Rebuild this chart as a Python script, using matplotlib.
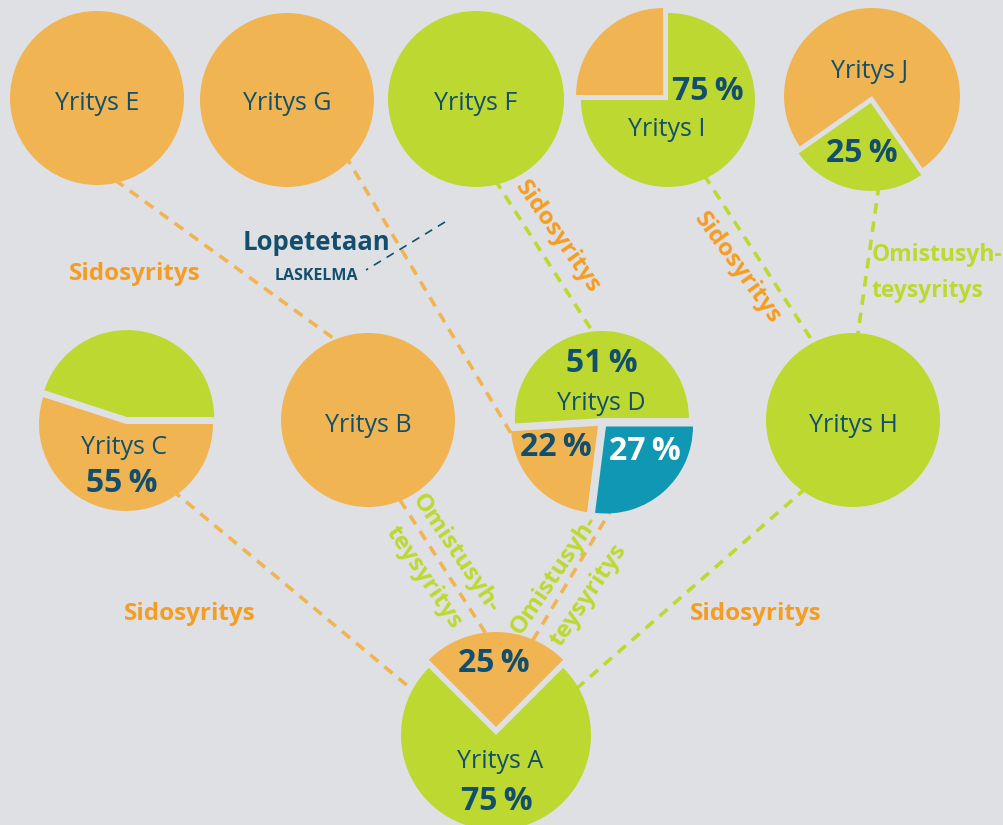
import matplotlib.pyplot as plt

# canvas in pixels, y measured from the top of the picture
W, H = 1004, 825
BG = "#dfe0e4"
ORANGE = "#f0b552"
GREEN = "#bdd831"
BLUE = "#1097b4"
DARK = "#134f6c"
LABEL_ORANGE = "#f59d22"
FONT = ["Open Sans", "DejaVu Sans"]

# ---- data ----
companies = ["Yritys A", "Yritys B", "Yritys C", "Yritys D", "Yritys E",
             "Yritys F", "Yritys G", "Yritys H", "Yritys I", "Yritys J"]
shares = [[25, 75], [100], [45, 55], [51, 22, 27], [100],
          [100], [100], [100], [75, 25], [25, 75]]
share_colors = [[ORANGE, GREEN], [ORANGE], [GREEN, ORANGE], [GREEN, ORANGE, BLUE], [ORANGE],
                [GREEN], [ORANGE], [GREEN], [GREEN, ORANGE], [GREEN, ORANGE]]
# which slices get a percentage written on them (company index, slice index)
shown_shares = [(0, 0), (0, 1), (2, 1), (3, 0), (3, 1), (3, 2), (8, 0), (9, 0)]

# links between companies: (from, to, relation)
links = [("Yritys E", "Yritys B", "sidos"), ("Yritys G", "Yritys D", "sidos"),
         ("Yritys F", "Yritys D", "omistus"), ("Yritys I", "Yritys H", "omistus"),
         ("Yritys J", "Yritys H", "omistus"), ("Yritys C", "Yritys A", "sidos"),
         ("Yritys B", "Yritys A", "sidos"), ("Yritys D", "Yritys A", "sidos"),
         ("Yritys H", "Yritys A", "omistus")]
link_colors = {"sidos": ORANGE, "omistus": GREEN}

# ---- layout (pixel positions) ----
pie_layout = {
    "Yritys A": dict(c=(496, 735), r=95, start=45, explode=[8, 0]),
    "Yritys B": dict(c=(368, 420), r=87, start=0, explode=[0]),
    "Yritys C": dict(c=(126, 424), r=87, start=0, explode=[7, 0]),
    "Yritys D": dict(c=(602, 422), r=87, start=0, explode=[4, 5.5, 6]),
    "Yritys E": dict(c=(97, 98), r=87, start=0, explode=[0]),
    "Yritys F": dict(c=(476, 99), r=88, start=0, explode=[0]),
    "Yritys G": dict(c=(287, 100), r=87, start=0, explode=[0]),
    "Yritys H": dict(c=(853, 420), r=87, start=0, explode=[0]),
    "Yritys I": dict(c=(668, 100), r=87, start=180, explode=[0, 7]),
    "Yritys J": dict(c=(872, 96), r=88, start=215, explode=[7, 0]),
}
name_pos = {"Yritys A": (500, 762), "Yritys B": (368, 426), "Yritys C": (124, 448),
            "Yritys D": (601, 404), "Yritys E": (97, 104), "Yritys F": (476, 104),
            "Yritys G": (287, 104), "Yritys H": (853, 426), "Yritys I": (667, 130),
            "Yritys J": (870, 72)}
share_pos = {(0, 0): (494, 663), (0, 1): (497, 801), (2, 1): (122, 484),
             (3, 0): (602, 363), (3, 1): (556, 448), (3, 2): (645, 451),
             (8, 0): (708, 91), (9, 0): (862, 154)}
link_ends = [((115, 180), (340, 343)), ((345, 155), (515, 440)),
             ((495, 180), (598, 340)), ((704, 175), (815, 345)),
             ((879, 185), (857, 340)), ((172, 490), (415, 692)),
             ((400, 500), (490, 640)), ((614, 505), (530, 645)),
             ((806, 488), (575, 690))]


def Y(y):
    return H - y


fig = plt.figure(figsize=(W / 100, H / 100), dpi=100, facecolor=BG)
ax = fig.add_axes([0, 0, 1, 1])
ax.set_facecolor(BG)

for (a, b, kind), (p0, p1) in zip(links, link_ends):
    ax.plot([p0[0], p1[0]], [Y(p0[1]), Y(p1[1])], color=link_colors[kind],
            lw=2.6, linestyle=(0, (2.9, 2.2)), zorder=1, solid_capstyle="butt")

# the cancelled calculation marker
ax.plot([445, 366], [Y(222), Y(270)], color=DARK, lw=1.2,
        linestyle=(0, (5, 4)), zorder=1)

for i, name in enumerate(companies):
    lay = pie_layout[name]
    ax.pie(shares[i], colors=share_colors[i], startangle=lay["start"],
           explode=lay["explode"], center=(lay["c"][0], Y(lay["c"][1])),
           radius=lay["r"], counterclock=True,
           wedgeprops=dict(linewidth=0, zorder=2))
    x, y = name_pos[name]
    ax.text(x, Y(y), name, ha="center", va="center", fontsize=18,
            color=DARK, family=FONT, zorder=3)

for (ci, si) in shown_shares:
    x, y = share_pos[(ci, si)]
    col = "white" if share_colors[ci][si] == BLUE else DARK
    ax.text(x, Y(y), f"{shares[ci][si]}\u2009%", ha="center", va="center",
            fontsize=23, fontweight="bold", color=col, family=FONT, zorder=3)

lab = dict(fontsize=17.5, fontweight="bold", family=FONT, zorder=3,
           ha="center", va="center", rotation_mode="anchor")
for x, y in [(135, 274), (190, 614), (756, 614)]:
    ax.text(x, Y(y), "Sidosyritys", color=LABEL_ORANGE, **lab)
ax.text(558, Y(237), "Sidosyritys", color=LABEL_ORANGE, rotation=-55, **lab)
ax.text(737, Y(268), "Sidosyritys", color=LABEL_ORANGE, rotation=-54, **lab)

ax.text(455, Y(554), "Omistusyh-", color=GREEN, rotation=-56, **lab)
ax.text(424, Y(577), "teysyritys", color=GREEN, rotation=-56, **lab)
ax.text(554, Y(575), "Omistusyh-", color=GREEN, rotation=56, **lab)
ax.text(589, Y(595), "teysyritys", color=GREEN, rotation=56, **lab)
ax.text(872, Y(255), "Omistusyh-", color=GREEN, fontsize=16.5, fontweight="bold",
        family=FONT, ha="left", va="center", zorder=3)
ax.text(872, Y(291), "teysyritys", color=GREEN, fontsize=16.5, fontweight="bold",
        family=FONT, ha="left", va="center", zorder=3)

ax.text(316, Y(243), "Lopetetaan", color=DARK, fontsize=18.5, fontweight="bold",
        family=FONT, ha="center", va="center", zorder=3)
ax.text(316, Y(276), "LASKELMA", color=DARK, fontsize=11.5, fontweight="bold",
        family=FONT, ha="center", va="center", zorder=3)

ax.set_xlim(0, W)
ax.set_ylim(0, H)
ax.set_aspect("auto")
ax.axis("off")

fig.savefig("out.png", dpi=100, facecolor=BG)
